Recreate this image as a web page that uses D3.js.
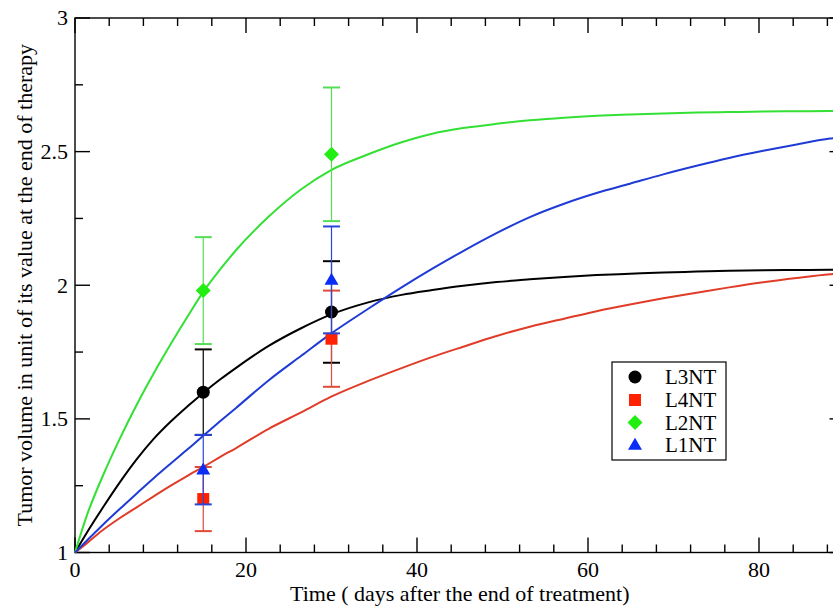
<!DOCTYPE html>
<html>
<head>
<meta charset="utf-8">
<script src="https://cdn.jsdelivr.net/npm/d3@7"></script>
<style>
  html, body { margin: 0; padding: 0; background: #fff; }
  svg { display: block; }
  text { font-family: "Liberation Serif", "Times New Roman", "DejaVu Serif", serif; fill: #000; }
</style>
</head>
<body>
<svg id="chart" width="833" height="608"></svg>
<script>
// ---- data ----
const curveDays = [0, 1.4, 3.3, 5.3, 7.25, 9.2, 11.2, 13.2, 15.1, 17, 18.8, 22.6, 26.5, 29.9, 34.3, 38.2, 41.8, 45.4, 49.3, 53.2, 57.2, 61.0, 64.9, 68.8, 72.7, 76.5, 80.5, 84.4, 88.3, 90];
const curveL3NT = [1, 1.075, 1.17, 1.265, 1.35, 1.425, 1.49, 1.548, 1.60, 1.648, 1.69, 1.772, 1.84, 1.89, 1.936, 1.964, 1.982, 1.998, 2.012, 2.022, 2.031, 2.038, 2.043, 2.048, 2.051, 2.054, 2.056, 2.057, 2.058, 2.058];
const curveL4NT = [1, 1.035, 1.085, 1.13, 1.17, 1.21, 1.25, 1.288, 1.322, 1.358, 1.39, 1.462, 1.525, 1.582, 1.642, 1.69, 1.732, 1.77, 1.81, 1.845, 1.875, 1.903, 1.928, 1.951, 1.972, 1.992, 2.011, 2.027, 2.041, 2.045];
const curveL2NT = [1, 1.14, 1.29, 1.43, 1.555, 1.67, 1.78, 1.885, 1.98, 2.06, 2.13, 2.255, 2.36, 2.43, 2.49, 2.535, 2.567, 2.588, 2.604, 2.617, 2.627, 2.634, 2.639, 2.643, 2.646, 2.648, 2.65, 2.651, 2.652, 2.652];
const curveL1NT = [1, 1.045, 1.105, 1.165, 1.222, 1.278, 1.333, 1.387, 1.44, 1.492, 1.54, 1.643, 1.737, 1.818, 1.912, 1.992, 2.062, 2.128, 2.195, 2.255, 2.305, 2.345, 2.38, 2.415, 2.447, 2.476, 2.503, 2.527, 2.549, 2.555];

const obsDays = [15, 30];
const obsL3NT = [1.60, 1.90];
const errL3NT = [0.16, 0.19];
const obsL4NT = [1.20, 1.80];
const errL4NT = [0.12, 0.18];
const obsL2NT = [1.98, 2.49];
const errL2NT = [0.20, 0.25];
const obsL1NT = [1.31, 2.02];
const errL1NT = [0.13, 0.20];

const seriesNames = ["L3NT", "L4NT", "L2NT", "L1NT"];
const xMajorTicks = [0, 20, 40, 60, 80];
const yMajorTicks = [1, 1.5, 2, 2.5, 3];
const yTickLabels = ["1", "1.5", "2", "2.5", "3"];
const xTitle = "Time ( days after the end of treatment)";
const yTitle = "Tumor volume in unit of its value at the end of therapy";

(function () {
// ---- styling / layout ----
const style = {
  L3NT: { line: "#000000", mark: "#000000", err: "#000000", shape: "circle" },
  L4NT: { line: "#e03c28", mark: "#ff2200", err: "#e04a38", shape: "square" },
  L2NT: { line: "#33e033", mark: "#22ee11", err: "#55dd55", shape: "diamond" },
  L1NT: { line: "#1f3bd6", mark: "#0a2cf5", err: "#2a45d8", shape: "triangle" }
};
const curves = { L3NT: curveL3NT, L4NT: curveL4NT, L2NT: curveL2NT, L1NT: curveL1NT };
const obs = { L3NT: obsL3NT, L4NT: obsL4NT, L2NT: obsL2NT, L1NT: obsL1NT };
const errs = { L3NT: errL3NT, L4NT: errL4NT, L2NT: errL2NT, L1NT: errL1NT };

const pL = 75, pR = 844.5, pT = 18, pB = 552.5;
const svg = d3.select("#chart");
const x = d3.scaleLinear().domain([0, 90]).range([pL, pR]);
const y = d3.scaleLinear().domain([1, 3]).range([pB, pT]);
const FS = "22px";

// frame
svg.append("rect").attr("x", pL).attr("y", pT).attr("width", pR - pL).attr("height", pB - pT)
  .attr("fill", "none").attr("stroke", "#000").attr("stroke-width", 1.4);

// ticks (inward, all four sides)
const xMinor = d3.range(0, 90, 4).filter(v => !xMajorTicks.includes(v));
const yMinor = [1.25, 1.75, 2.25, 2.75];
const tickG = svg.append("g").attr("stroke", "#000").attr("stroke-width", 1.4);
function xt(vals, len) {
  vals.forEach(v => {
    tickG.append("line").attr("x1", x(v)).attr("x2", x(v)).attr("y1", pB).attr("y2", pB - len);
    tickG.append("line").attr("x1", x(v)).attr("x2", x(v)).attr("y1", pT).attr("y2", pT + len);
  });
}
function yt(vals, len) {
  vals.forEach(v => {
    tickG.append("line").attr("y1", y(v)).attr("y2", y(v)).attr("x1", pL).attr("x2", pL + len);
    tickG.append("line").attr("y1", y(v)).attr("y2", y(v)).attr("x1", pR).attr("x2", pR - len);
  });
}
xt(xMajorTicks, 15); xt(xMinor, 8);
yt(yMajorTicks, 15); yt(yMinor, 8);

// tick labels
svg.append("g").selectAll("text").data(xMajorTicks).join("text")
  .attr("x", d => x(d)).attr("y", 577).attr("text-anchor", "middle")
  .style("font-size", FS).text(d => d);
svg.append("g").selectAll("text").data(yMajorTicks).join("text")
  .attr("x", 68).attr("y", d => y(d)).attr("dy", "0.34em").attr("text-anchor", "end")
  .style("font-size", FS).text((d, i) => yTickLabels[i]);

// axis titles
svg.append("text").attr("x", (pL + pR) / 2).attr("y", 601).attr("text-anchor", "middle")
  .style("font-size", FS).text(xTitle);
svg.append("text").attr("transform", `translate(31.5,${(pT + pB) / 2}) rotate(-90)`)
  .attr("text-anchor", "middle").style("font-size", FS).text(yTitle);

// curves
const plot = svg.append("g");
const line = d3.line().x(d => x(d[0])).y(d => y(d[1])).curve(d3.curveMonotoneX);
seriesNames.forEach(name => {
  const pts = curveDays.map((d, i) => [d, curves[name][i]]);
  plot.append("path").attr("d", line(pts)).attr("fill", "none")
    .attr("stroke", style[name].line).attr("stroke-width", 2);
});

// markers
function drawMarker(g, shape, cx, cy, color) {
  if (shape === "circle") {
    g.append("circle").attr("cx", cx).attr("cy", cy).attr("r", 6.5).attr("fill", color);
  } else if (shape === "square") {
    g.append("rect").attr("x", cx - 6).attr("y", cy - 6).attr("width", 12).attr("height", 12).attr("fill", color);
  } else if (shape === "diamond") {
    const r = 7.5;
    g.append("path").attr("d", `M${cx},${cy - r}L${cx + r},${cy}L${cx},${cy + r}L${cx - r},${cy}Z`).attr("fill", color);
  } else {
    const h = 12, w = 14;
    g.append("path").attr("d", `M${cx},${cy - h * 0.6}L${cx + w / 2},${cy + h * 0.4}L${cx - w / 2},${cy + h * 0.4}Z`).attr("fill", color);
  }
}

// error bars and markers
seriesNames.forEach(name => {
  const g = svg.append("g");
  obsDays.forEach((d, i) => {
    const cx = x(d), v = obs[name][i], e = errs[name][i];
    const c = style[name].err;
    g.append("line").attr("x1", cx).attr("x2", cx).attr("y1", y(v - e)).attr("y2", y(v + e))
      .attr("stroke", c).attr("stroke-width", 1.2);
    [v - e, v + e].forEach(t => {
      g.append("line").attr("x1", cx - 8.5).attr("x2", cx + 8.5).attr("y1", y(t)).attr("y2", y(t))
        .attr("stroke", c).attr("stroke-width", 2);
    });
    drawMarker(g, style[name].shape, cx, y(v), style[name].mark);
  });
});

// legend
const lg = svg.append("g");
lg.append("rect").attr("x", 612).attr("y", 362).attr("width", 114).attr("height", 98)
  .attr("fill", "#fff").attr("stroke", "#000").attr("stroke-width", 1.2);
const rowY = [377, 400, 422.5, 445];
seriesNames.forEach((name, i) => {
  drawMarker(lg, style[name].shape, 635, rowY[i], style[name].mark);
  lg.append("text").attr("x", 665).attr("y", rowY[i]).attr("dy", "0.34em")
    .style("font-size", "21px").text(name);
});
})();
</script>
</body>
</html>
